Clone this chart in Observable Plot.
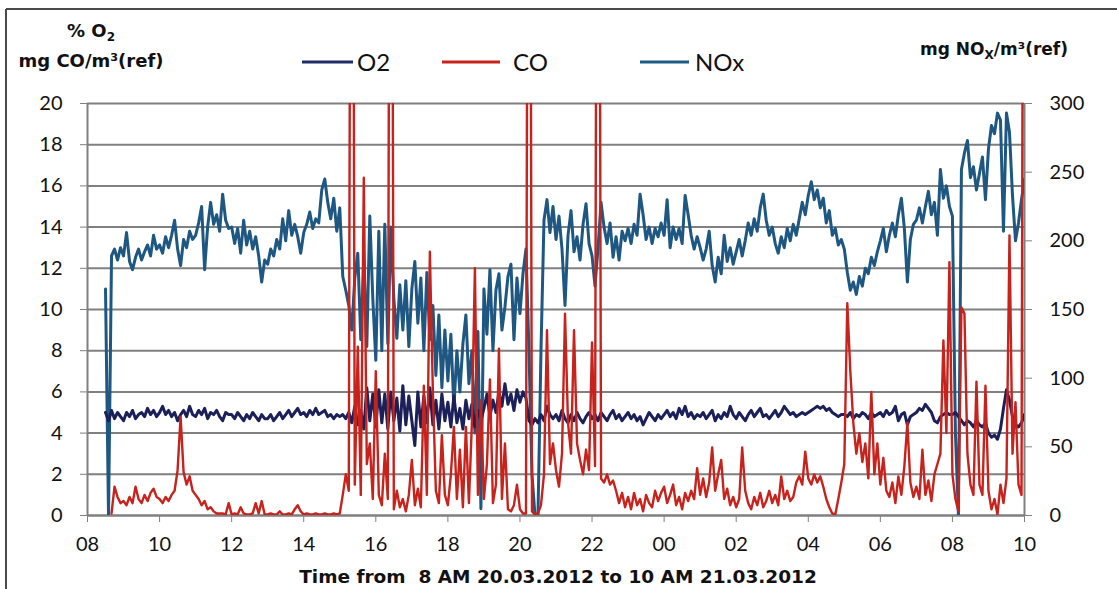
<!DOCTYPE html>
<html>
<head>
<meta charset="utf-8">
<script src="https://cdn.jsdelivr.net/npm/d3@7"></script>
<script src="https://cdn.jsdelivr.net/npm/@observablehq/plot@0.6"></script>
<style>
  html, body { margin: 0; padding: 0; background: #fff; }
  #wrap { position: relative; width: 1117px; height: 589px; overflow: hidden; background: #fff; }
  #chart { position: absolute; left: 0; top: 0; }
  #overlay { position: absolute; left: 0; top: 0; pointer-events: none; }
  .b { font-family: "DejaVu Sans", sans-serif; font-weight: bold; font-size: 17px; fill: #111; }
  .bl { font-family: "DejaVu Sans", sans-serif; font-weight: bold; font-size: 18px; fill: #111; }
  .bx { font-family: "DejaVu Sans", sans-serif; font-weight: bold; font-size: 18.5px; fill: #111; }
  .lg { font-family: Lato, sans-serif; font-size: 24px; fill: #111; }
</style>
</head>
<body>
<div id="wrap">
  <div id="chart"></div>
  <svg id="overlay" width="1117" height="589">
    <line x1="6" y1="9" x2="1117" y2="9" stroke="#4a4a4a" stroke-width="2"/>
    <line x1="6" y1="9" x2="6" y2="589" stroke="#4a4a4a" stroke-width="2"/>
    <text class="bl" x="91" y="37" text-anchor="middle">% O<tspan font-size="12" dy="4">2</tspan></text>
    <text class="bl" x="91" y="67" text-anchor="middle">mg CO/m³(ref)</text>
    <text class="b" x="994" y="55" text-anchor="middle">mg NO<tspan font-size="12" dy="4">X</tspan><tspan dy="-4">/m³(ref)</tspan></text>
    <line x1="302" y1="62" x2="353" y2="62" stroke="#1f2a66" stroke-width="3"/>
    <text class="lg" x="357" y="71">O2</text>
    <line x1="442" y1="62" x2="500" y2="62" stroke="#c8221c" stroke-width="3"/>
    <text class="lg" x="513" y="71">CO</text>
    <line x1="640" y1="62" x2="689" y2="62" stroke="#1f5a87" stroke-width="3"/>
    <text class="lg" x="695" y="71">NOx</text>
    <text class="bx" x="558" y="583" text-anchor="middle">Time from&#160; 8 AM 20.03.2012 to 10 AM 21.03.2012</text>
  </svg>
</div>
<script>
// ---- data (5-minute samples from 08:00 20.03.2012 to 10:00 21.03.2012) ----
const startTime = "2012-03-20T08:00:00Z";
const endTime = "2012-03-21T10:00:00Z";
const stepMinutes = 5;

// % O2
const o2 = [
  null,null,null,null,null,null,5.0,4.6,5.1,4.7,5.0,4.8,
  4.6,5.0,4.8,5.1,4.7,4.9,5.0,4.8,5.2,4.9,5.1,4.8,
  5.0,5.3,4.9,5.1,4.8,5.0,4.6,4.9,5.1,4.8,5.3,4.9,
  4.8,5.1,4.9,5.2,4.7,5.0,4.9,5.1,4.8,4.6,5.0,4.9,
  4.9,4.7,5.0,4.8,4.6,4.9,4.7,5.0,4.8,4.6,4.9,4.7,
  4.7,4.9,4.6,4.8,5.0,4.7,4.9,5.1,4.8,5.0,5.2,4.9,
  5.0,4.8,5.1,4.9,5.2,4.9,5.0,5.1,4.8,4.9,4.7,4.9,
  4.8,4.9,4.7,5.0,4.5,5.3,4.4,5.1,4.2,6.2,4.6,5.9,
  4.3,6.1,4.5,5.9,4.2,6.0,4.6,5.7,4.1,6.3,4.4,5.8,
  4.6,3.4,6.0,4.3,5.8,4.5,6.2,4.4,5.6,4.2,5.9,4.6,
  5.5,4.3,5.8,4.5,5.2,4.2,5.6,4.7,5.4,4.3,5.1,4.6,
  5.2,5.9,4.8,5.6,5.0,6.0,5.3,6.4,5.4,5.9,5.1,6.1,
  5.5,6.0,5.7,4.6,4.4,4.7,4.5,4.9,4.6,5.3,4.9,4.7,
  4.9,4.6,5.1,4.7,4.5,4.9,4.6,5.0,4.7,4.5,4.8,5.0,
  4.7,4.9,4.6,5.0,4.8,4.6,4.9,5.1,4.7,4.9,4.6,4.8,
  5.0,4.7,4.9,4.6,4.8,4.4,4.7,5.0,4.8,4.6,4.9,4.7,
  4.9,5.1,4.8,5.0,4.7,5.2,4.9,5.3,4.8,5.0,4.7,4.9,
  4.8,5.0,4.7,4.9,5.1,4.6,4.9,4.7,5.0,4.8,5.3,4.9,
  4.7,5.0,4.8,4.6,4.9,5.1,4.8,5.0,5.2,4.8,4.9,4.7,
  4.9,5.1,4.8,5.0,5.3,5.1,4.9,5.0,4.8,4.9,5.0,4.9,
  5.0,5.1,5.2,5.3,5.2,5.3,5.1,5.2,5.0,4.9,4.8,4.9,
  4.9,4.8,5.0,4.7,4.9,4.8,5.0,4.9,4.7,5.0,4.8,4.9,
  5.0,4.8,5.1,4.9,5.0,5.3,4.6,4.9,5.0,4.4,4.8,4.9,
  5.0,5.2,5.1,5.4,5.2,5.0,4.6,4.5,4.8,4.9,5.0,4.9,
  4.9,5.0,4.8,4.6,4.4,4.6,4.5,4.3,4.6,4.4,4.3,4.5,
  4.0,3.8,3.9,3.7,4.2,5.2,6.1,5.6,4.8,4.4,4.3,4.5,
  4.9
];

// mg CO/m3 (ref)
const co = [
  null,null,null,null,null,null,null,null,0.1,1.4,0.9,0.6,
  0.7,0.5,0.9,0.6,1.4,0.8,0.6,1.0,0.7,1.1,1.3,0.9,
  0.8,0.6,0.9,0.7,1.0,1.2,2.2,4.8,2.1,1.5,1.9,1.2,
  1.0,0.8,0.5,0.7,0.3,0.4,0.2,0.1,0.1,0.1,0.05,0.6,
  0.05,0.1,0.05,0.4,0.1,0.05,0.05,0.1,0.6,0.1,0.7,0.05,
  0.05,0.1,0.05,0.05,0.2,0.05,0.05,0.1,0.05,0.3,0.5,0.2,
  0.05,0.1,0.05,0.05,0.1,0.05,0.05,0.1,0.05,0.05,0.1,0.05,
  0.1,1.0,2.0,1.2,60,1.5,8.2,1.0,16.4,2.5,3.5,0.8,
  7.0,1.0,0.5,3.0,0.8,60,0.3,1.2,0.4,0.8,0.2,1.0,
  2.7,0.5,1.3,0.4,6.3,1.0,12.8,6.0,1.2,0.6,3.9,1.0,
  0.5,2.0,4.3,0.8,3.2,0.4,4.3,0.6,4.5,12.0,1.0,5.6,
  0.8,2.5,6.6,0.6,1.5,8.1,0.8,3.5,0.3,0.2,0.5,1.5,
  0.3,0.1,0.1,60,0.2,0.05,0.1,0.5,2.0,9.0,2.5,3.5,
  2.2,1.4,3.0,9.8,4.5,3.0,9.0,3.5,2.7,2.0,3.2,2.2,
  8.4,2.4,60,1.8,1.6,2.0,1.5,1.7,1.2,0.6,1.1,0.4,
  0.9,0.3,1.1,0.5,0.8,0.2,1.0,0.6,0.4,1.2,0.7,1.1,
  1.4,0.6,1.0,1.5,0.5,0.9,0.3,1.1,0.7,1.2,0.8,2.3,
  1.0,1.8,0.9,1.6,3.3,1.2,2.0,2.7,0.8,1.3,0.5,0.9,
  0.4,0.8,3.3,1.2,0.6,0.3,0.9,0.5,1.1,0.4,0.7,1.2,
  0.6,1.0,0.5,1.9,0.8,1.2,0.7,0.9,1.6,1.9,1.5,3.1,
  1.8,1.5,2.0,1.6,1.9,1.4,0.8,0.4,0.1,0.05,0.8,1.6,
  2.5,10.3,7.0,4.5,3.0,4.0,2.6,3.5,1.8,6.0,2.0,3.5,
  1.5,2.8,1.2,0.9,1.6,0.6,1.9,1.0,2.4,4.5,1.6,0.9,
  1.4,0.8,3.2,1.0,1.7,0.7,2.0,2.5,3.0,8.5,4.0,12.3,
  2.0,0.8,0.2,10.1,9.8,3.0,1.5,1.0,6.5,1.5,1.0,6.3,
  1.2,0.3,0.8,0.05,1.5,0.6,1.8,13.6,3.0,5.5,1.5,1.0,
  60
];

// mg NOx/m3 (ref)
const nox = [
  null,null,null,null,null,null,165,0,189,194,186,195,
  189,206,185,179,188,194,186,192,197,189,204,194,
  197,191,203,195,204,215,194,182,201,195,207,201,
  204,213,225,179,210,228,212,219,207,234,215,209,
  210,198,209,191,215,197,207,194,203,189,170,186,
  183,194,189,201,194,216,200,222,204,212,203,191,
  206,212,221,209,216,213,237,245,228,216,231,207,
  224,174,164,153,135,173,191,128,186,123,218,158,
  113,207,120,212,125,210,158,129,168,135,171,123,
  165,185,140,173,120,177,128,153,102,146,93,135,
  98,132,78,120,90,125,146,96,120,60,134,5,
  165,132,179,120,164,176,135,152,174,183,128,173,
  147,176,194,120,30,0,0,120,215,230,206,225,
  201,218,194,153,204,222,192,203,186,212,227,198,
  189,167,195,228,210,198,213,188,203,186,207,200,
  209,198,212,204,234,219,201,210,198,209,203,213,
  204,230,195,210,201,209,198,233,219,204,194,203,
  195,186,194,207,182,170,188,176,204,185,195,183,
  192,201,189,200,213,204,216,207,224,234,215,204,
  210,198,191,203,195,209,200,212,204,216,228,219,
  233,243,230,237,224,231,213,222,204,209,197,201,
  194,177,164,170,161,174,167,180,176,188,182,192,
  200,209,192,204,213,203,219,231,209,170,201,212,
  215,224,213,225,236,219,228,204,252,231,240,225,
  218,60,0,252,264,273,246,254,237,249,261,230,
  267,284,278,293,288,207,293,279,233,200,213,230,
  245
];

// axes
const leftTicks = [0, 2, 4, 6, 8, 10, 12, 14, 16, 18, 20];
const rightTicks = [0, 50, 100, 150, 200, 250, 300];
const leftMax = 20, rightMax = 300;

if (o2.length !== co.length || o2.length !== nox.length) {
  throw new Error("length mismatch " + o2.length + " " + co.length + " " + nox.length);
}

const t0 = new Date(startTime).getTime();
const k = leftMax / rightMax;
const rows = o2.map((v, i) => ({
  t: new Date(t0 + i * stepMinutes * 60000),
  o2: v,
  co: co[i],
  nox: nox[i] == null ? null : nox[i] * k
}));

const xTicks = d3.utcHour.every(2).range(new Date(startTime), new Date(new Date(endTime).getTime() + 1));
const gridColor = "#808080";

const chart = Plot.plot({
  width: 1117,
  height: 589,
  marginTop: 103,
  marginBottom: 74,
  marginLeft: 87,
  marginRight: 93,
  style: { fontFamily: "Lato, sans-serif", fontSize: "20px", color: "#111", background: "transparent" },
  x: { type: "utc", domain: [new Date(startTime), new Date(endTime)] },
  y: { domain: [0, leftMax] },
  marks: [
    Plot.gridY(leftTicks, { stroke: gridColor, strokeOpacity: 1, strokeWidth: 2 }),
    Plot.ruleX([new Date(startTime), new Date(endTime)], { stroke: gridColor, strokeWidth: 2 }),
    Plot.ruleY([0], { stroke: gridColor, strokeWidth: 2 }),
    Plot.lineY(rows, { x: "t", y: "nox", stroke: "#1e5781", strokeWidth: 3, clip: true }),
    Plot.lineY(rows, { x: "t", y: "o2", stroke: "#1b2058", strokeWidth: 3, clip: true }),
    Plot.lineY(rows, { x: "t", y: "co", stroke: "#c8221c", strokeWidth: 2.4, clip: true }),
    Plot.axisY(leftTicks, { anchor: "left", tickSize: 7, tickPadding: 18, stroke: gridColor, fill: "#111", label: null, fontSize: 20 }),
    Plot.axisY(rightTicks.map(v => v * k), { anchor: "right", tickSize: 7, tickPadding: 18, stroke: gridColor, fill: "#111", label: null, fontSize: 20, tickFormat: d => Math.round(d / k) }),
    Plot.axisX(xTicks, { anchor: "bottom", tickSize: 7, tickPadding: 14, stroke: gridColor, fill: "#111", label: null, fontSize: 20, tickFormat: d3.utcFormat("%H") })
  ]
});
document.getElementById("chart").appendChild(chart);
</script>
</body>
</html>
